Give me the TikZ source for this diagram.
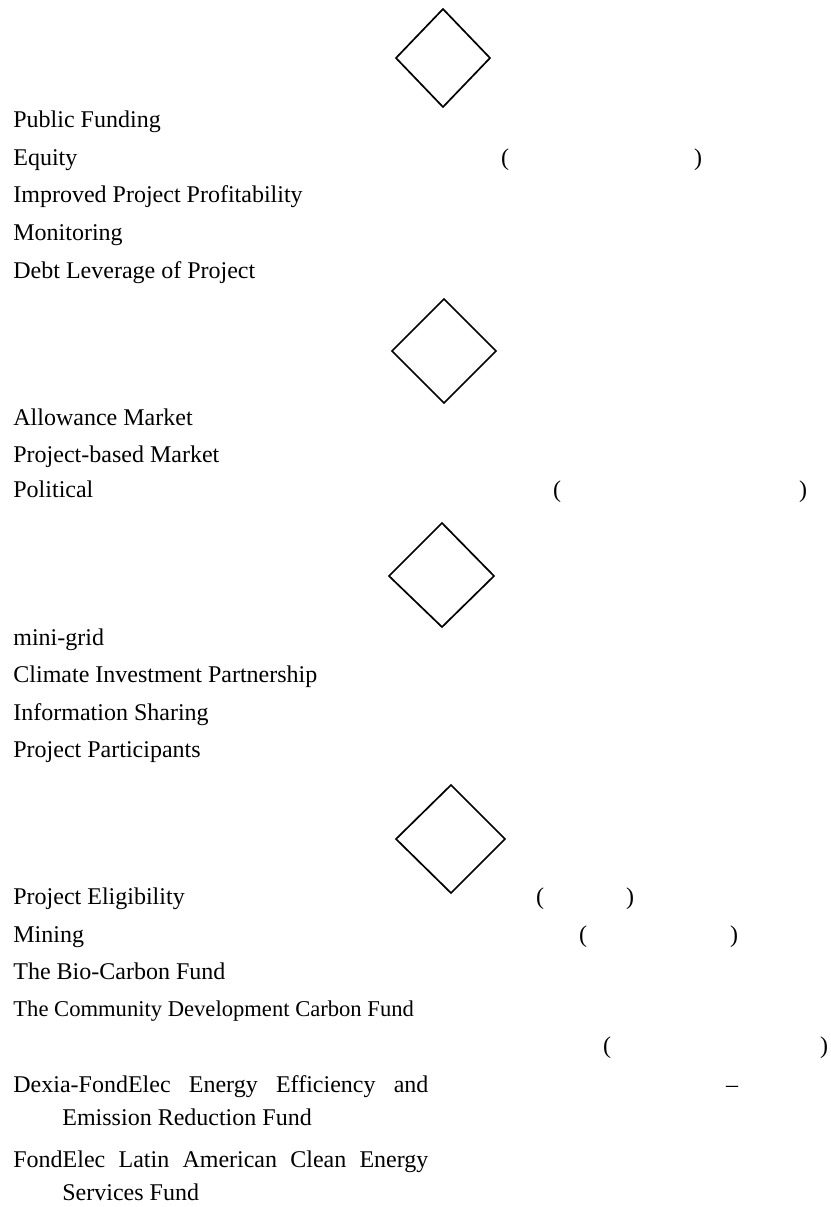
\documentclass[tikz,border=0pt]{standalone}
\usepackage{fontspec}
\setmainfont{Liberation Serif}
\newcommand{\hangpar}{\tolerance=10000\relax\hyphenpenalty=10000\relax
  \hangindent=24.5pt\relax\hangafter=1\relax}
\tikzset{
  lbl/.style={anchor=base west, inner sep=0pt, font=\fontsize{12}{14.4}\selectfont},
  lblsm/.style={anchor=base west, inner sep=0pt, font=\fontsize{11.3}{13.5}\selectfont},
  brk/.style={anchor=base, inner sep=0pt, font=\fontsize{12}{14.4}\selectfont},
  fund/.style={anchor=base west, inner sep=0pt, text width=207.5pt, align=justify,
    font=\fontsize{12}{16.5}\selectfont},
  dmd/.style={line width=0.85pt, line join=miter}
}
\begin{document}
\begin{tikzpicture}[x=0.5pt, y=-0.5pt]
  \useasboundingbox (0,0) rectangle (831,1207);
  % diamonds
  \draw[dmd] (443,9) -- (490,58) -- (443,107) -- (396,58) -- cycle;
  \draw[dmd] (444,299) -- (496,351) -- (444,403) -- (392,351) -- cycle;
  \draw[dmd] (442,523) -- (494,576) -- (442,627) -- (389,576) -- cycle;
  \draw[dmd] (451,785) -- (505,839) -- (451,893) -- (396,839) -- cycle;
  % first group
  \node[lbl] (pubfund) at (13,127) {Public Funding};
  \node[lbl] (equity) at (13,165) {Equity};
  \node[lbl] (profit) at (13,202) {Improved Project Profitability};
  \node[lbl] (monitor) at (13,240) {Monitoring};
  \node[lbl] (debt) at (13,278) {Debt Leverage of Project};
  \node[brk] (eqL) at (505,165) {(};
  \node[brk] (eqR) at (698,165) {)};
  % second group
  \node[lbl] (allow) at (13,425) {Allowance Market};
  \node[lbl] (projmkt) at (13,462) {Project-based Market};
  \node[lbl] (polit) at (13,497) {Political};
  \node[brk] (polL) at (557,497) {(};
  \node[brk] (polR) at (803,497) {)};
  % third group
  \node[lbl] (minigrid) at (13,645) {mini-grid};
  \node[lbl] (climate) at (13,682) {Climate Investment Partnership};
  \node[lbl] (infoshare) at (13,720) {Information Sharing};
  \node[lbl] (partic) at (13,757) {Project Participants};
  % fourth group
  \node[lbl] (elig) at (13,904) {Project Eligibility};
  \node[brk] (eligL) at (540,904) {(};
  \node[brk] (eligR) at (630,904) {)};
  \node[lbl] (mining) at (13,942) {Mining};
  \node[brk] (minL) at (583,942) {(};
  \node[brk] (minR) at (734,942) {)};
  \node[lbl] (biocarb) at (13,979) {The Bio-Carbon Fund};
  \node[lblsm] (commdev) at (13,1016) {The Community Development Carbon Fund};
  \node[brk] (fundL) at (607,1053) {(};
  \node[brk] (fundR) at (824,1053) {)};
  \node[fund] (dexia) at (13,1092) {\hangpar
    Dexia-FondElec Energy Efficiency and Emission Reduction Fund\par};
  \node[brk] (dash) at (732,1092) {--};
  \node[fund] (latam) at (13,1167) {\hangpar
    FondElec Latin American Clean Energy Services Fund\par};
\end{tikzpicture}
\end{document}
